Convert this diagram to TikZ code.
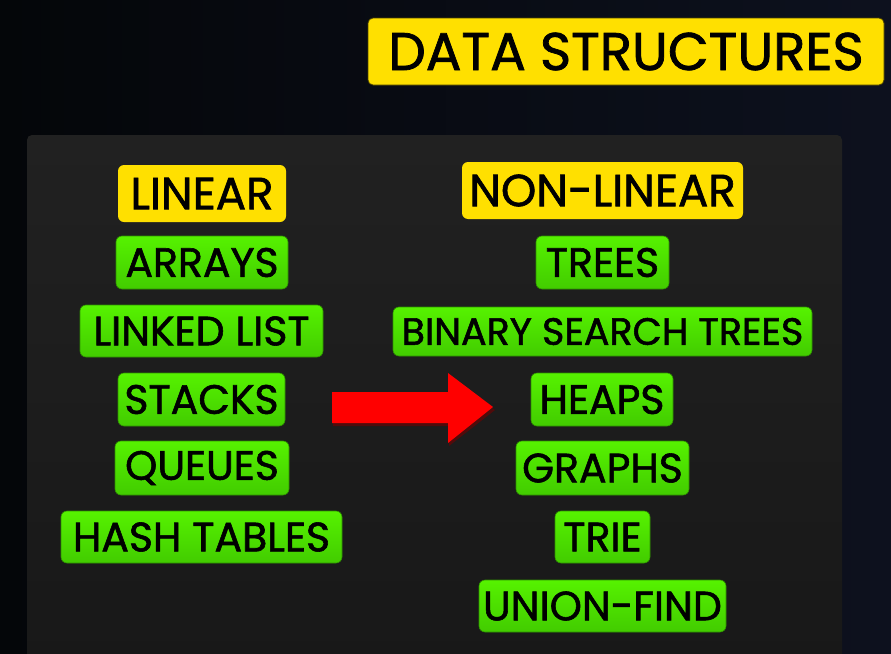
\documentclass[tikz,border=0pt]{standalone}
\usepackage{fontspec}
\setmainfont{Poppins}[FakeBold=1.4]
\definecolor{bgleft}{RGB}{4,6,9}
\definecolor{bgright}{RGB}{13,17,30}
\definecolor{paneltop}{RGB}{33,33,33}
\definecolor{panelbot}{RGB}{24,24,24}
\definecolor{ylw}{RGB}{255,224,0}
\definecolor{gtop}{RGB}{86,242,0}
\definecolor{gbot}{RGB}{66,204,0}
\definecolor{arrowred}{RGB}{255,0,0}
\begin{document}
\begin{tikzpicture}[x=1pt,y=-1pt,
  tag/.style={rounded corners=6pt, inner sep=0pt, text=black, anchor=center,
    font=\fontsize{41}{41}\selectfont},
  greentag/.style={tag, top color=gtop, bottom color=gbot, draw=gbot!70!black, line width=0.6pt},
  yellowtag/.style={tag, fill=ylw, font=\fontsize{45}{45}\selectfont},
  titletag/.style={tag, fill=ylw, draw=black!70!ylw, line width=0.8pt, rounded corners=5pt,
    font=\fontsize{53}{53}\selectfont}]
% backdrop and panel
\useasboundingbox (0,0) rectangle (891,653);
\shade[left color=bgleft, right color=bgright] (0,0) rectangle (891,653);
\shade[top color=paneltop, bottom color=panelbot, rounded corners=5pt] (27,135) rectangle (842,670);

% heading
\node[titletag, minimum width=516, minimum height=67] (title) at (626,51.5) {DATA STRUCTURES};

% linear column
\node[yellowtag, minimum width=168, minimum height=57] (linear) at (202,193.5) {LINEAR};
\node[greentag, minimum width=172, minimum height=53] (arrays) at (202,262.5) {ARRAYS};
\node[greentag, minimum width=243, minimum height=52] (linked) at (201.5,331) {LINKED LIST};
\node[greentag, minimum width=167, minimum height=53] (stacks) at (201.5,399.5) {STACKS};
\node[greentag, minimum width=174, minimum height=54] (queues) at (202,468) {QUEUES};
\node[greentag, minimum width=281, minimum height=52] (hash) at (201.5,537) {HASH TABLES};

% non-linear column
\node[yellowtag, minimum width=281, minimum height=57] (nonlinear) at (602.5,190.5) {NON-LINEAR};
\node[greentag, minimum width=133, minimum height=53] (trees) at (602.5,262.5) {TREES};
\node[greentag, minimum width=419, minimum height=49, font=\fontsize{38}{38}\selectfont] (bst) at (602.5,331.5) {BINARY SEARCH TREES};
\node[greentag, minimum width=142, minimum height=53] (heaps) at (602,399.5) {HEAPS};
\node[greentag, minimum width=173, minimum height=54] (graphs) at (602.5,468) {GRAPHS};
\node[greentag, minimum width=95, minimum height=52] (trie) at (602.5,537) {TRIE};
\node[greentag, minimum width=247, minimum height=52] (unionfind) at (602.5,606) {UNION-FIND};

% block arrow between the columns
\fill[arrowred!45!black, opacity=0.6] (333,395) -- (449,395) -- (449,376) -- (495,410) -- (449,446) -- (449,426) -- (333,426) -- cycle;
\fill[arrowred] (332,392) -- (448,392) -- (448,373) -- (493,407) -- (448,443) -- (448,423) -- (332,423) -- cycle;
\end{tikzpicture}
\end{document}
